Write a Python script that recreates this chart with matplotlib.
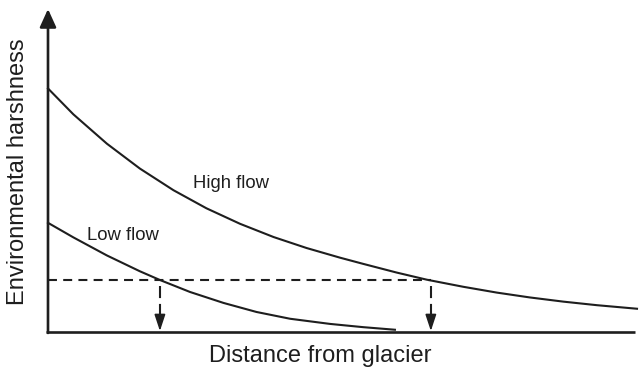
import matplotlib
matplotlib.use("Agg")
import matplotlib.pyplot as plt

# Data (arbitrary units: distance 0-100, harshness 0-100)
high_x = [0, 4.3, 10.0, 15.6, 21.3, 26.9, 32.6, 38.3, 43.9, 49.6, 53.5,
          59.2, 64.3, 70.5, 76.2, 81.8, 87.5, 93.2, 100]
high_y = [75.4, 67.4, 58.3, 50.6, 43.9, 38.3, 33.5, 29.4, 26.0, 23.0, 21.1,
          18.4, 16.2, 14.0, 12.2, 10.7, 9.4, 8.3, 7.2]
low_x = [0, 4.3, 10.0, 15.6, 19.0, 24.1, 29.8, 35.4, 41.1, 47.9, 53.5, 58.9]
low_y = [33.8, 29.3, 23.7, 18.8, 16.1, 12.4, 9.0, 6.2, 4.1, 2.5, 1.5, 0.7]
threshold = 16.1
cross_x = [19.0, 65.0]

ink = "#1e1e1e"
font = ["Liberation Sans", "DejaVu Sans"]

fig = plt.figure(figsize=(6.41, 3.71), dpi=100)
W, H = 641, 371
ax = fig.add_axes([48 / W, (H - 332) / H, (637 - 48) / W, (332 - 9) / H])
ax.set_xlim(0, 100)
ax.set_ylim(0, 100)
ax.axis("off")

# axes lines
ax.plot([-0.35, 99.7], [0, 0], color=ink, lw=1.9, clip_on=False, solid_capstyle="butt")
ax.annotate("", xy=(0, 100), xytext=(0, -0.3),
            arrowprops=dict(arrowstyle="-|>,head_length=1.1,head_width=0.5",
                            mutation_scale=10, lw=1.9, color=ink,
                            shrinkA=0, shrinkB=0), annotation_clip=False)

# curves
ax.plot(high_x, high_y, color=ink, lw=1.5, clip_on=False, solid_joinstyle="round")
ax.plot(low_x, low_y, color=ink, lw=1.5, clip_on=False, solid_joinstyle="round")

# threshold dashed line
ax.plot([0, cross_x[1]], [threshold, threshold], color=ink, lw=1.5,
        linestyle=(0, (4.3, 3.0)))

# vertical dashed arrows
for cx in cross_x:
    ax.plot([cx, cx], [threshold - 2.0, 4.3], color=ink, lw=1.5,
            linestyle=(0, (5.8, 2.8)), solid_capstyle="butt")
    ax.annotate("", xy=(cx, 0.3), xytext=(cx, 5.0),
                arrowprops=dict(arrowstyle="-|>,head_length=1.0,head_width=0.33",
                                mutation_scale=10, lw=1.2, color=ink,
                                shrinkA=0, shrinkB=0), annotation_clip=False)

# labels
ax.text(31.1, 46.1, "High flow", fontsize=13.3, family=font, color=ink,
        ha="center", va="center")
ax.text(12.8, 30.0, "Low flow", fontsize=13.3, family=font, color=ink,
        ha="center", va="center")
fig.text(320 / W, 1 - 356 / H, "Distance from glacier", fontsize=17,
         family=font, color=ink, ha="center", va="center")
fig.text(18 / W, 1 - 172 / H, "Environmental harshness", fontsize=17,
         family=font, color=ink, ha="center", va="center", rotation=90)

fig.savefig("out.png", dpi=100)
